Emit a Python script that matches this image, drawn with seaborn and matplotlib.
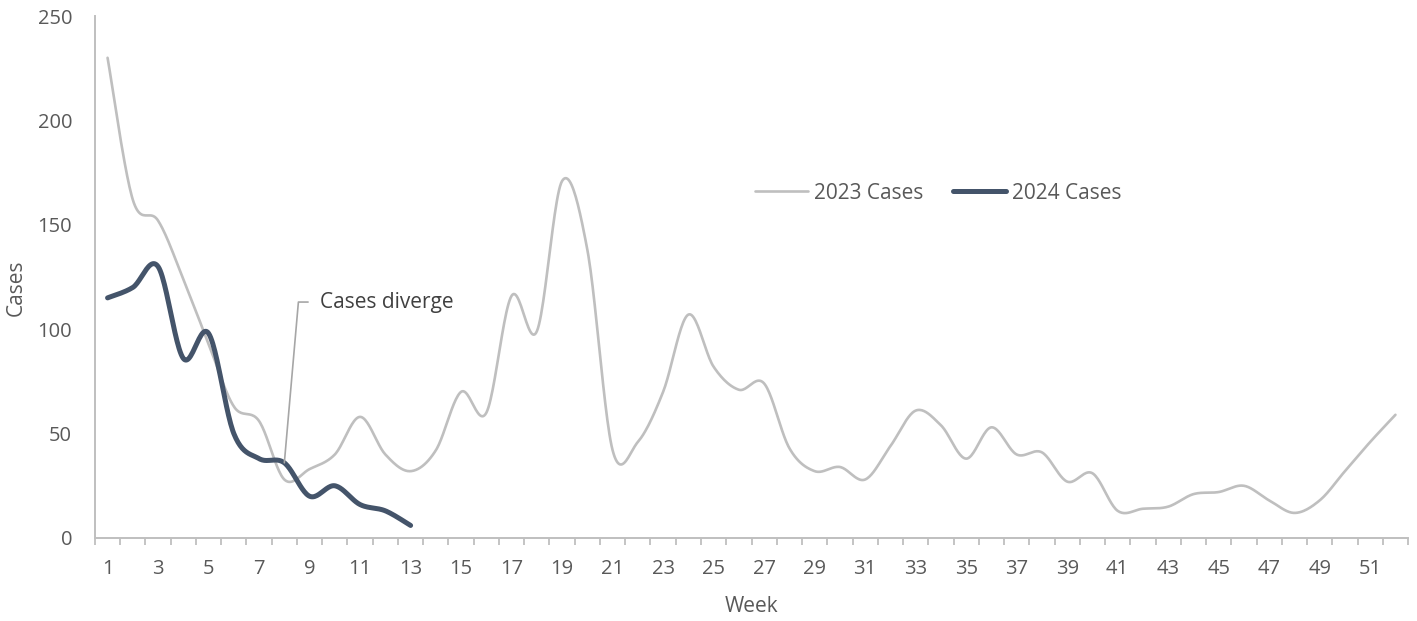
import numpy as np
import pandas as pd
import matplotlib
matplotlib.use("Agg")
import matplotlib.pyplot as plt
import seaborn as sns

# Weekly case counts
weeks = list(range(1, 53))
cases_2023 = [230, 162, 152, 124, 93, 63, 56, 28, 33, 40,
              58, 40, 32, 42, 70, 60, 116, 99, 171, 138,
              42, 46, 70, 107, 82, 71, 74, 43, 32, 34,
              28, 44, 61, 54, 38, 53, 40, 41, 27, 31,
              13, 14, 15, 21, 22, 25, 18, 12, 18, 32,
              46, 59]
cases_2024 = [115, 120, 130, 86, 98, 50, 38, 36, 20, 25,
              16, 13, 6]
series_names = ["2023 Cases", "2024 Cases"]
y_ticks = [0, 50, 100, 150, 200, 250]
x_tick_weeks = list(range(1, 53, 2))
note_text = "Cases diverge"
note_week = 8

GREY = "#bfbfbf"
SLATE = "#44546a"
TEXT = "#595959"


def smooth_curve(x, y, steps=24):
    """Cubic Bezier smoothing through every point (Catmull-Rom style tangents)."""
    x = np.asarray(x, float)
    y = np.asarray(y, float)
    pts = np.column_stack([x, y])
    n = len(pts)
    out = [pts[0]]
    t = np.linspace(0, 1, steps + 1)[1:, None]
    for i in range(n - 1):
        p0 = pts[i - 1] if i > 0 else pts[i]
        p1 = pts[i]
        p2 = pts[i + 1]
        p3 = pts[i + 2] if i + 2 < n else pts[i + 1]
        c1 = p1 + (p2 - p0) / 6.0
        c2 = p2 - (p3 - p1) / 6.0
        seg = ((1 - t) ** 3) * p1 + 3 * ((1 - t) ** 2) * t * c1 \
            + 3 * (1 - t) * t ** 2 * c2 + t ** 3 * p2
        out.extend(seg)
    out = np.array(out)
    return out[:, 0], out[:, 1]


sns.set_theme(style="white")
plt.rcParams["font.family"] = ["Open Sans", "DejaVu Sans"]

fig = plt.figure(figsize=(14.17, 6.21), dpi=100)
ax = fig.add_axes([0.0670, 0.1337, 0.9267, 0.8405])

x23, y23 = smooth_curve(weeks, cases_2023)
x24, y24 = smooth_curve(weeks[:len(cases_2024)], cases_2024)
df23 = pd.DataFrame({"Week": x23, "Cases": y23})
df24 = pd.DataFrame({"Week": x24, "Cases": y24})

sns.lineplot(data=df23, x="Week", y="Cases", ax=ax, color=GREY, lw=1.9,
             sort=False, estimator=None, label=series_names[0],
             solid_capstyle="round")
sns.lineplot(data=df24, x="Week", y="Cases", ax=ax, color=SLATE, lw=3.6,
             sort=False, estimator=None, label=series_names[1],
             solid_capstyle="round")

ax.set_xlim(0.5, 52.5)
ax.set_ylim(0, 250)

# Axes styling
for side in ("top", "right"):
    ax.spines[side].set_visible(False)
for side in ("left", "bottom"):
    ax.spines[side].set_color(GREY)
    ax.spines[side].set_linewidth(1.4)

ax.set_yticks(y_ticks)
ax.set_xticks(x_tick_weeks)
ax.set_xticks(np.arange(0.5, 53.0, 1.0), minor=True)
ax.tick_params(axis="x", which="major", length=0, pad=15, labelsize=14.5,
               labelcolor=TEXT)
ax.tick_params(axis="x", which="minor", length=5, width=1.3, color=GREY,
               direction="out", bottom=True)
ax.tick_params(axis="y", length=0, pad=16.5, labelsize=14.5, labelcolor=TEXT)
ax.grid(False)

ax.set_xlabel("Week", fontsize=15, color=TEXT)
ax.set_ylabel("Cases", fontsize=15, color=TEXT)
ax.xaxis.set_label_coords(0.5, -0.112)
ax.yaxis.set_label_coords(-0.052, 0.48)

# Callout for the point where the two seasons split
ax.annotate(note_text,
            xy=(note_week, cases_2024[note_week - 1]),
            xytext=(9.4, 113), textcoords="data",
            ha="left", va="center", fontsize=15, color="#404040",
            arrowprops=dict(arrowstyle="-", color="#a6a6a6", lw=1.2,
                            connectionstyle="angle,angleA=0,angleB=85,rad=0",
                            relpos=(0, 0.5), shrinkA=6, shrinkB=0))

leg = ax.legend(loc="center", bbox_to_anchor=(0.662, 0.689),
                bbox_transform=fig.transFigure, ncol=2, frameon=False,
                fontsize=15, handlelength=2.55, handletextpad=0.3,
                columnspacing=1.4)
for txt in leg.get_texts():
    txt.set_color(TEXT)

fig.savefig("out.png", dpi=100)
